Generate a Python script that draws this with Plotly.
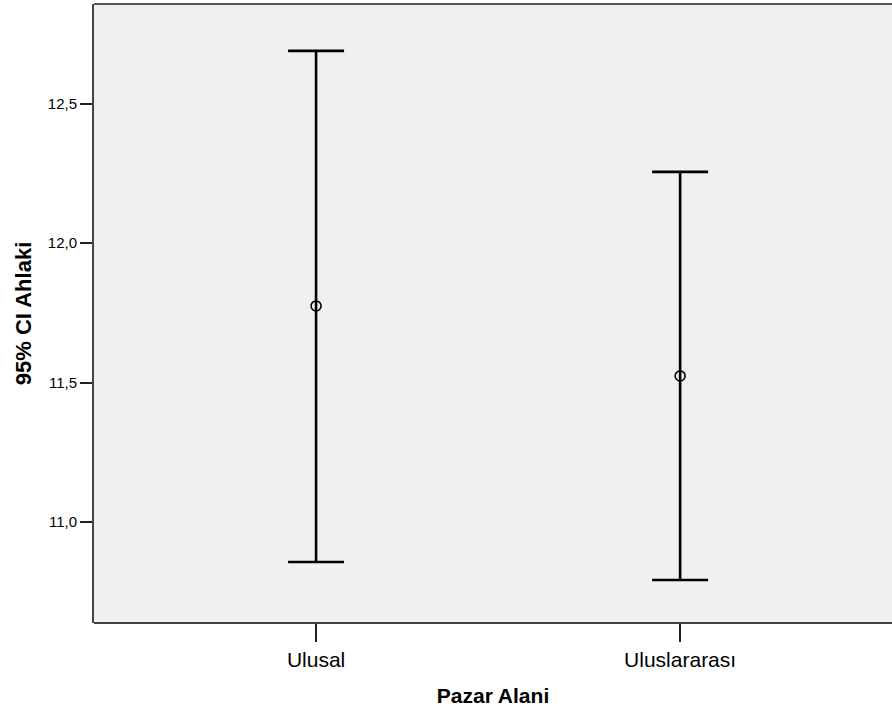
import plotly.graph_objects as go

# Pazar alanına göre Ahlaki puanı: ortalama ve %95 güven aralığı
categories = ["Ulusal", "Uluslararası"]
means = [11.775, 11.524]
ci_upper = [12.690, 12.256]
ci_lower = [10.857, 10.792]

err_plus = [u - m for u, m in zip(ci_upper, means)]
err_minus = [m - l for m, l in zip(means, ci_lower)]

fig = go.Figure()
fig.add_trace(go.Scatter(
    x=categories,
    y=means,
    mode="markers",
    marker=dict(symbol="circle-open", size=10, color="black", line=dict(width=1.6, color="black")),
    error_y=dict(
        type="data",
        symmetric=False,
        array=err_plus,
        arrayminus=err_minus,
        color="black",
        thickness=2.6,
        width=28,
    ),
    showlegend=False,
    hoverinfo="skip",
))

font_family = "Liberation Sans, Arial, sans-serif"

# top frame line of the plot area (no right-hand border)
fig.add_shape(
    type="line", xref="paper", yref="paper",
    x0=0, x1=1, y0=1, y1=1,
    line=dict(color="#555555", width=2),
)

fig.update_layout(
    width=892,
    height=710,
    margin=dict(l=94, r=0, t=4, b=87),
    paper_bgcolor="white",
    plot_bgcolor="#f0f0f0",
    separators=",.",
    font=dict(family=font_family, color="black"),
    xaxis=dict(
        type="category",
        range=[-0.61, 1.582],
        showline=False,
        showgrid=False,
        zeroline=False,
        ticks="outside",
        ticklen=18,
        tickwidth=2,
        tickcolor="#222222",
        tickfont=dict(size=21, family=font_family),
        title=dict(text="<b>Pazar Alani</b>", font=dict(size=21, family=font_family), standoff=18),
    ),
    yaxis=dict(
        range=[10.638, 12.858],
        tickvals=[11.0, 11.5, 12.0, 12.5],
        tickformat=".1f",
        showline=True,
        linecolor="#444444",
        linewidth=2,
        showgrid=False,
        zeroline=False,
        ticks="outside",
        ticklen=12,
        tickwidth=2,
        tickcolor="#222222",
        tickfont=dict(size=15, family=font_family),
        title=dict(text="<b>95% CI Ahlaki</b>", font=dict(size=22, family=font_family), standoff=10),
    ),
)

# bottom frame line drawn as a shape
fig.add_shape(
    type="line", xref="paper", yref="paper",
    x0=0, x1=1, y0=0, y1=0,
    line=dict(color="#444444", width=2),
)

fig.write_html("out.html")
